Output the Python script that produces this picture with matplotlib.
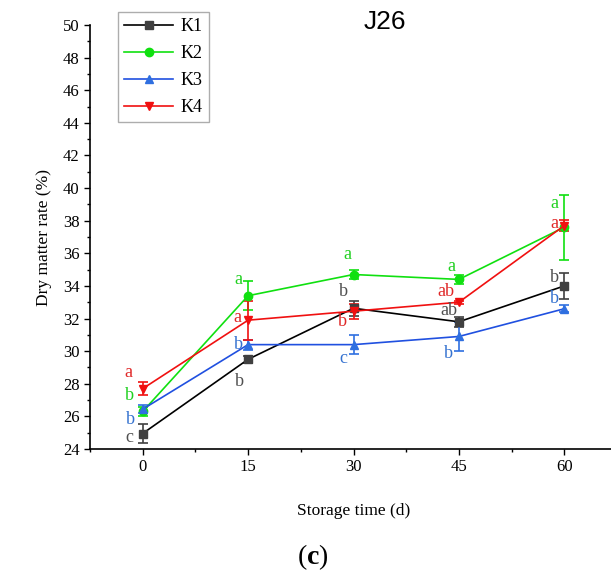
import matplotlib
matplotlib.use("Agg")
import matplotlib.pyplot as plt
from matplotlib.ticker import MultipleLocator

plt.rcParams['font.family'] = ['Liberation Serif', 'DejaVu Serif']
plt.rcParams['mathtext.fontset'] = 'custom'
plt.rcParams['mathtext.rm'] = 'Liberation Serif'
plt.rcParams['mathtext.bf'] = 'Liberation Serif:bold'

days = [0, 15, 30, 45, 60]
series_names = ["K1", "K2", "K3", "K4"]

k1 = [24.95, 29.5, 32.63, 31.8, 34.0]
k1_err = [0.6, 0.2, 0.45, 0.3, 0.8]
k1_letters = ["c", "b", "b", "ab", "b"]

k2 = [26.3, 33.4, 34.7, 34.4, 37.6]
k2_err = [0.3, 0.9, 0.25, 0.3, 2.0]
k2_letters = ["b", "a", "a", "a", "a"]

k3 = [26.44, 30.4, 30.4, 30.9, 32.6]
k3_err = [0.25, 0.3, 0.6, 0.9, 0.2]
k3_letters = ["b", "b", "c", "b", "b"]

k4 = [27.7, 31.9, 32.45, 33.0, 37.7]
k4_err = [0.4, 1.2, 0.45, 0.1, 0.35]
k4_letters = ["a", "a", "b", "ab", "a"]

# label offsets (pixels) from each point
k1_off = [(-13, -4), (-9, -22), (-10, 17), (-10, 11), (-10, 8)]
k2_off = [(-13, 16), (-10, 16), (-6, 20), (-8, 13), (-10, 24)]
k3_off = [(-12, -10), (-10, 0), (-10, -14), (-10, -17), (-10, 10)]
k4_off = [(-14, 16), (-11, 3), (-11, -10), (-13, 11), (-10, 2)]

styles = [
    dict(line="#000000", mk="#404040", txt="#505050", marker="s"),
    dict(line="#10E010", mk="#10E010", txt="#20D020", marker="o"),
    dict(line="#2050E0", mk="#2F6FE0", txt="#3572D0", marker="^"),
    dict(line="#F01010", mk="#F01010", txt="#E02828", marker="v"),
]

fig = plt.figure(figsize=(6.11, 5.81), dpi=100)
ax = fig.add_axes([90 / 611, 132 / 581, 527 / 611, 424 / 581])

data = [(k1, k1_err, k1_letters, k1_off), (k2, k2_err, k2_letters, k2_off),
        (k3, k3_err, k3_letters, k3_off), (k4, k4_err, k4_letters, k4_off)]

handles = []
for name, (vals, errs, letters, offs), st in zip(series_names, data, styles):
    cont = ax.errorbar(days, vals, yerr=errs, color=st["line"], ecolor=st["mk"],
                       marker=st["marker"], markerfacecolor=st["mk"], markeredgecolor=st["mk"],
                       markersize=6, linewidth=1.2, elinewidth=1.2, capsize=3.5, capthick=1.2,
                       label=name)
    handles.append(cont.lines[0])
    for d, v, lt, off in zip(days, vals, letters, offs):
        ax.annotate(lt, (d, v), xytext=off, textcoords="offset pixels",
                    ha="center", va="center", fontsize=13, color=st["txt"])

ax.set_xlim(-7.5, 67.5)
ax.set_ylim(24, 50)
ax.set_xticks(days)
ax.xaxis.set_minor_locator(MultipleLocator(7.5))
ax.yaxis.set_major_locator(MultipleLocator(2))
ax.yaxis.set_minor_locator(MultipleLocator(1))
ax.tick_params(which="major", direction="out", length=4, width=1, labelsize=12)
ax.tick_params(which="minor", direction="out", length=2.5, width=1)
ax.spines["top"].set_visible(False)
ax.spines["right"].set_visible(False)
ax.spines["left"].set_linewidth(1.2)
ax.spines["bottom"].set_linewidth(1.2)

ax.set_xlabel("Storage time (d)", fontsize=12.5, labelpad=20)
ax.set_ylabel("Dry matter rate (%)", fontsize=12.5, labelpad=8)

leg = ax.legend(handles, series_names, loc="upper left", bbox_to_anchor=(0.053, 1.031),
                borderaxespad=0, fontsize=13, frameon=True, fancybox=False,
                edgecolor="#999999", handlelength=2.7, handletextpad=0.4,
                labelspacing=0.55, borderpad=0.35)
leg.get_frame().set_linewidth(1.0)

fig.text(385 / 611, 1 - 22 / 581, "J26", family="Liberation Sans", fontsize=19,
         ha="center", va="center")
fig.text(313 / 611, 1 - 557 / 581, r"($\mathbf{c}$)", fontsize=20,
         ha="center", va="center")

fig.savefig("out.png", dpi=100)
